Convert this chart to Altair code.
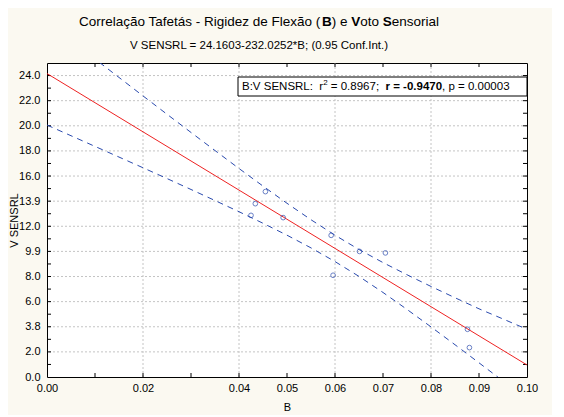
import altair as alt
import pandas as pd

# ---------------- data ----------------
b_values = [0.0425, 0.0434, 0.0455, 0.0492, 0.0592, 0.0596, 0.0651, 0.0705, 0.0876, 0.0880]
vs_values = [12.87, 13.80, 14.76, 12.69, 11.28, 8.10, 10.00, 9.88, 3.80, 2.34]

fit_b = [0.0, 0.10]
fit_vs = [24.1603, 0.9578]

band_b = [0.000, 0.005, 0.010, 0.015, 0.020, 0.025, 0.030, 0.035, 0.040, 0.045, 0.050,
          0.055, 0.060, 0.065, 0.070, 0.075, 0.080, 0.085, 0.090, 0.095, 0.100]
band_upper = [28.26, 26.79, 25.32, 23.85, 22.38, 20.92, 19.47, 18.03, 16.60, 15.20, 13.83,
              12.52, 11.29, 10.15, 9.11, 8.14, 7.21, 6.31, 5.43, 4.62, 3.80]
band_lower = [20.06, 19.21, 18.36, 17.51, 16.66, 15.80, 14.93, 14.05, 13.16, 12.24, 11.29,
              10.28, 9.19, 8.01, 6.73, 5.38, 3.99, 2.57, 1.13, -0.32, -1.78]

x_label_values = [0.00, 0.02, 0.04, 0.05, 0.06, 0.07, 0.08, 0.09, 0.10]
x_grid_values = [0.02, 0.04, 0.06, 0.08]
x_tick_values = [0.01, 0.02, 0.03, 0.04, 0.05, 0.06, 0.07, 0.08, 0.09]

y_label_values = [0, 2, 4, 6, 8, 10, 12, 14, 16, 18, 20, 22, 24]
y_label_texts = ["0.0", "2.0", "3.8", "6.0", "8.0", "9.9", "12.0", "13.9", "16.0", "18.0", "20.0", "22.0", "24.0"]
y_grid_values = [2, 4, 6, 8, 10, 12, 14, 16, 18, 20, 22, 24]
y_tick_values = list(range(1, 25))

title_parts = [("Correlação Tafetás - Rigidez de Flexão (", "normal"), ("B", "bold"), (") e", "normal"),
               (" V", "bold"), ("oto", "normal"), (" S", "bold"), ("ensorial", "normal")]
subtitle_text = "V SENSRL = 24.1603-232.0252*B; (0.95 Conf.Int.)"
legend_parts = [("B:V SENSRL:", "normal", "base"), ("  r", "normal", "base"), ("2", "normal", "sup"),
                (" = 0.8967;", "normal", "base"), ("  r = -0.9470", "bold", "base"),
                (", p = 0.00003", "normal", "base")]

# ---------------- layout ----------------
W, H = 480, 314
FONT = "Liberation Sans"
BLUE = "#2a4aae"
RED = "#ee2222"
GRID = "#c4c4c4"

REG = {' ': 278, '(': 333, ')': 333, '*': 389, ',': 278, '-': 333, '.': 278, ':': 278, ';': 278,
       '=': 584, 'B': 667, 'C': 722, 'E': 667, 'F': 611, 'I': 278, 'L': 556, 'N': 722, 'R': 722,
       'S': 667, 'T': 611, 'V': 667, 'a': 556, 'd': 556, 'e': 556, 'f': 278, 'g': 556, 'i': 222,
       'l': 222, 'n': 556, 'o': 556, 'p': 556, 'r': 333, 's': 500, 't': 278, 'x': 500, 'z': 500,
       'ç': 500, 'ã': 556, 'á': 556}
BOLD = dict(REG)
BOLD.update({'B': 722, 'r': 389, 'V': 667, 'S': 667})


def tw(s, size, weight):
    tab = BOLD if weight == "bold" else REG
    return sum(tab.get(c, 556) for c in s) * size / 1000.0


def text_layer(txt, x, y, size, weight="normal", align="left"):
    return alt.Chart(pd.DataFrame({"t": [txt]})).mark_text(
        font=FONT, fontSize=size, fontWeight=weight, align=align, baseline="middle", color="black"
    ).encode(x=alt.value(x), y=alt.value(y), text="t:N")


def run_layers(parts, x0, y, sizes):
    layers = []
    cur = x0
    for p in parts:
        txt, weight = p[0], p[1]
        kind = p[2] if len(p) > 2 else "base"
        size = sizes[kind]
        lead = len(txt) - len(txt.lstrip(' '))
        dy = -4 if kind == "sup" else 0
        layers.append(text_layer(txt.strip(), cur + tw(' ' * lead, size, weight), y + dy, size, weight))
        cur += tw(txt, size, weight)
    return layers


xs = alt.Scale(domain=[0, 0.1], nice=False, zero=False)
ys = alt.Scale(domain=[0, 25], nice=False, zero=False)

label_expr = ""
for v, t in zip(y_label_values, y_label_texts):
    label_expr += f"datum.value == {v} ? '{t}' : "
label_expr += "''"

AX = alt.Axis(values=x_label_values, format=".2f", grid=False, ticks=False, domain=False,
              labelOverlap=False, labelFlush=False, labelBound=False,
              labelFont=FONT, labelFontSize=11, labelColor="black", labelPadding=5,
              title="B", titleFont=FONT, titleFontSize=11, titleFontWeight="normal",
              titleColor="black", titleX=W / 2, titleY=30, titleBaseline="middle")
AY = alt.Axis(values=y_label_values, labelExpr=label_expr, grid=False, ticks=False,
              labelOverlap=False, labelFlush=False, labelBound=False,
              domain=False, labelFont=FONT, labelFontSize=11, labelColor="black",
              labelPadding=7, title="V SENSRL", titleFont=FONT, titleFontSize=11,
              titleFontWeight="normal", titleColor="black", titleX=-33, titleY=H / 2,
              titleAngle=-90, titleAlign="center", titleBaseline="middle")


def X(f):
    return alt.X(f, scale=xs, axis=AX)


def Y(f):
    return alt.Y(f, scale=ys, axis=AY)


pts = pd.DataFrame({"B": b_values, "V": vs_values})
fit = pd.DataFrame({"B": fit_b, "V": fit_vs})
band = pd.DataFrame({"B": band_b, "U": band_upper, "L": band_lower})

gx = alt.Chart(pd.DataFrame({"g": x_grid_values})).mark_rule(
    color=GRID, strokeDash=[2, 2], strokeWidth=1).encode(x=X("g:Q"))
gy = alt.Chart(pd.DataFrame({"g": y_grid_values})).mark_rule(
    color=GRID, strokeDash=[2, 2], strokeWidth=1).encode(y=Y("g:Q"))

tick_x = pd.DataFrame({"t": x_tick_values})
tick_y = pd.DataFrame({"t": y_tick_values})
tb = alt.Chart(tick_x).mark_rule(color="black").encode(x=X("t:Q"), y=alt.value(H), y2=alt.value(H - 4))
tt = alt.Chart(tick_x).mark_rule(color="black").encode(x=X("t:Q"), y=alt.value(0), y2=alt.value(4))
tl = alt.Chart(tick_y).mark_rule(color="black").encode(y=Y("t:Q"), x=alt.value(0), x2=alt.value(4))
tr = alt.Chart(tick_y).mark_rule(color="black").encode(y=Y("t:Q"), x=alt.value(W), x2=alt.value(W - 4))

upper = alt.Chart(band).mark_line(color=BLUE, strokeDash=[6, 5], strokeWidth=1, clip=True).encode(
    x=X("B:Q"), y=Y("U:Q"))
lower = alt.Chart(band).mark_line(color=BLUE, strokeDash=[6, 5], strokeWidth=1, clip=True).encode(
    x=X("B:Q"), y=Y("L:Q"))
fitline = alt.Chart(fit).mark_line(color=RED, strokeWidth=1, clip=True).encode(
    x=X("B:Q"), y=Y("V:Q"))
points = alt.Chart(pts).mark_point(shape="circle", filled=False, color=BLUE, size=22, strokeWidth=1).encode(
    x=X("B:Q"), y=Y("V:Q"))

box = alt.Chart(pd.DataFrame({"a": [0]})).mark_rect(fill="white", stroke="black", strokeWidth=1).encode(
    x=alt.value(191), x2=alt.value(W), y=alt.value(14), y2=alt.value(33))

# title
t_size = 13.5
t_width = sum(tw(t, t_size, w) for t, w in title_parts)
t_center = 212
title_layers = run_layers(title_parts, t_center - t_width / 2, -41, {"base": t_size})
sub_layer = text_layer(subtitle_text, t_center, -17, 11.5, align="center")
legend_layers = run_layers(legend_parts, 195, 24, {"base": 11.5, "sup": 8})

chart = alt.layer(
    gx, gy, tb, tt, tl, tr, upper, lower, fitline, points, box,
    *title_layers, sub_layer, *legend_layers
).properties(
    width=W, height=H,
    autosize=alt.AutoSizeParams(type="none"),
    padding={"left": 39, "top": 55, "right": 25, "bottom": 38},
    background="#fbf9f1",
).configure_view(fill="white", stroke="black", strokeWidth=1
).configure_axis(labelOverlap=False)

chart.save("out.html", embed_options={"renderer": "svg", "actions": False})
